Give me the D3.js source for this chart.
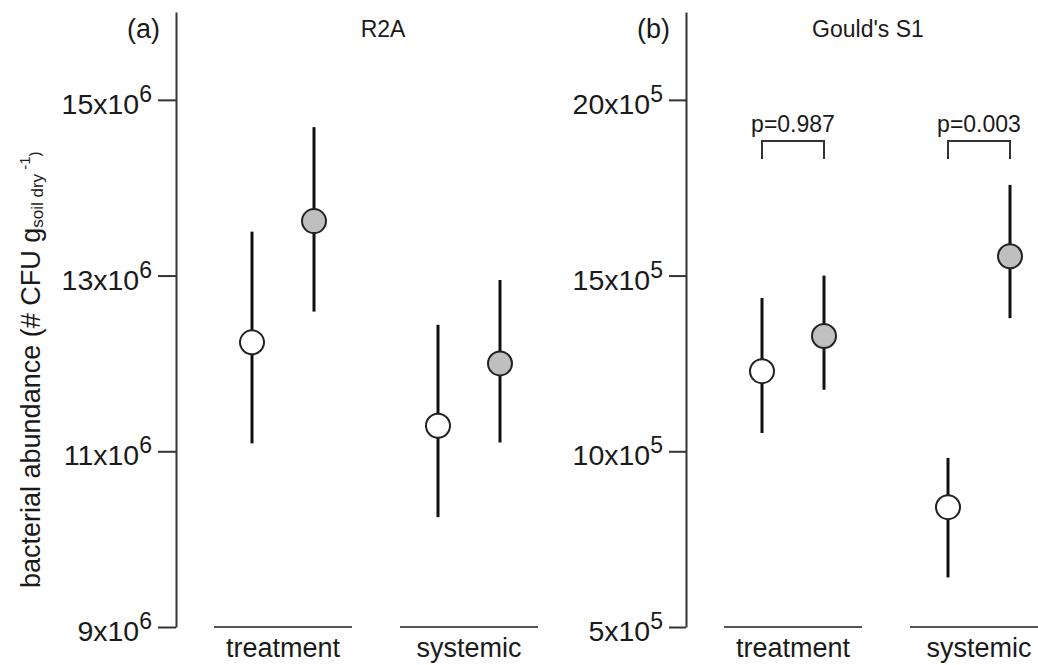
<!DOCTYPE html>
<html>
<head>
<meta charset="utf-8">
<script src="https://cdn.jsdelivr.net/npm/d3@7"></script>
<style>
body { margin: 0; background: #fff; }
svg { font-family: "Liberation Sans", Arial, sans-serif; }
</style>
</head>
<body>
<svg id="chart" width="1038" height="665"></svg>
<script>
var groups = ['treatment', 'systemic'];
var series = ['open', 'shaded'];

/* R2A, x10^6 CFU; order: treatment open, treatment shaded, systemic open, systemic shaded */
var r2aMean = [12.24, 13.62, 11.29, 12.00];
var r2aLow  = [11.09, 12.59, 10.25, 11.10];
var r2aHigh = [13.50, 14.69, 12.44, 12.95];
var r2aTicks = [9, 11, 13, 15];

/* Gould's S1, x10^5 CFU */
var gouldMean = [12.28, 13.28,  8.41, 15.55];
var gouldLow  = [10.52, 11.75,  6.41, 13.79];
var gouldHigh = [14.36, 15.00,  9.81, 17.58];
var gouldTicks = [5, 10, 15, 20];
var gouldP = ['p=0.987', 'p=0.003'];

var fills = {open: '#ffffff', shaded: '#bfbfbf'};

function panel(svg, opt) {
    var g = svg.append('g').attr('transform', 'translate(' + opt.left + ',0)');

    var y  = d3.scaleLinear().domain(opt.domain).range([627, 12]);
    var x  = d3.scalePoint().domain(groups).range([107, 293]);
    var dx = d3.scalePoint().domain(series).range([-31, 31]);

    var rows = opt.mean.map(function (m, i) {
        return {group: groups[Math.floor(i / 2)], s: series[i % 2],
                mean: m, lo: opt.low[i], hi: opt.high[i]};
    });

    var ax = g.append('g')
              .call(d3.axisLeft(y).tickValues(opt.ticks).tickSize(opt.tick)
                      .tickSizeOuter(0).tickPadding(6).tickFormat(''));
    ax.attr('font-family', null).attr('font-size', null);
    ax.selectAll('path, line').attr('stroke', '#333').attr('stroke-width', 2);
    ax.selectAll('.tick text')
      .attr('font-size', 28.5).attr('fill', '#1a1a1a').attr('dy', 13.5)
      .each(function (d) {
          var t = d3.select(this);
          t.append('tspan').text(d + 'x10');
          t.append('tspan').attr('font-size', 23).attr('dy', -12).text(opt.exp);
      });

    /* group underlines and labels */
    g.selectAll('line.grp')
     .data(groups)
     .enter().append('line')
       .attr('class', 'grp')
       .attr('x1', function (d) { return x(d) - 69; })
       .attr('x2', function (d) { return x(d) + 69; })
       .attr('y1', 627).attr('y2', 627)
       .attr('stroke', '#555').attr('stroke-width', 2);
    g.selectAll('text.grp')
     .data(groups)
     .enter().append('text')
       .attr('class', 'grp')
       .attr('x', function (d) { return x(d); })
       .attr('y', 657)
       .attr('text-anchor', 'middle')
       .attr('font-size', 27).attr('fill', '#1a1a1a')
       .text(function (d) { return d; });

    /* error bars */
    g.selectAll('line.err')
     .data(rows)
     .enter().append('line')
       .attr('class', 'err')
       .attr('x1', function (d) { return x(d.group) + dx(d.s); })
       .attr('x2', function (d) { return x(d.group) + dx(d.s); })
       .attr('y1', function (d) { return y(d.lo); })
       .attr('y2', function (d) { return y(d.hi); })
       .attr('stroke', '#111').attr('stroke-width', 3);

    g.selectAll('circle')
     .data(rows)
     .enter().append('circle')
       .attr('cx', function (d) { return x(d.group) + dx(d.s); })
       .attr('cy', function (d) { return y(d.mean); })
       .attr('r', 12)
       .attr('fill', function (d) { return fills[d.s]; })
       .attr('stroke', '#222').attr('stroke-width', 2);

    /* panel letter and title */
    g.append('text')
     .attr('x', -16).attr('y', 38)
     .attr('text-anchor', 'end')
     .attr('font-size', 27).attr('fill', '#1a1a1a')
     .text(opt.letter);
    g.append('text')
     .attr('x', opt.titleX).attr('y', 37)
     .attr('text-anchor', 'middle')
     .attr('font-size', 23).attr('fill', '#1a1a1a')
     .text(opt.title);

    if (opt.p) {
        var top = 141, drop = 18;
        g.selectAll('path.br')
         .data(groups)
         .enter().append('path')
           .attr('class', 'br')
           .attr('d', function (d) {
               var x0 = x(d) + dx('open'), x1 = x(d) + dx('shaded');
               return 'M' + x0 + ',' + (top + drop) + 'V' + top + 'H' + x1 + 'V' + (top + drop);
           })
           .attr('fill', 'none').attr('stroke', '#333').attr('stroke-width', 2);
        g.selectAll('text.p')
         .data(groups)
         .enter().append('text')
           .attr('class', 'p')
           .attr('x', function (d) { return x(d); })
           .attr('y', 132)
           .attr('text-anchor', 'middle')
           .attr('font-size', 23).attr('fill', '#1a1a1a')
           .text(function (d, i) { return opt.p[i]; });
    }
}

var svg = d3.select('#chart');

panel(svg, {left: 176, domain: [9, 16], ticks: r2aTicks, tick: 18, exp: '6',
            mean: r2aMean, low: r2aLow, high: r2aHigh,
            letter: '(a)', title: 'R2A', titleX: 207});
panel(svg, {left: 686, domain: [5, 22.5], ticks: gouldTicks, tick: 17, exp: '5',
            mean: gouldMean, low: gouldLow, high: gouldHigh,
            letter: '(b)', title: "Gould's S1", titleX: 182, p: gouldP});

/* shared y label */
var lab = svg.append('text')
             .attr('transform', 'translate(40,588) rotate(-90)')
             .attr('font-size', 27).attr('fill', '#1a1a1a');
lab.append('tspan').text('bacterial abundance (# CFU g');
lab.append('tspan').attr('font-size', 17).attr('dy', 3).text('soil dry');
lab.append('tspan').attr('font-size', 15).attr('dy', -13).text(' -1');
lab.append('tspan').attr('font-size', 15).attr('dy', 10).text(')');
</script>
</body>
</html>
